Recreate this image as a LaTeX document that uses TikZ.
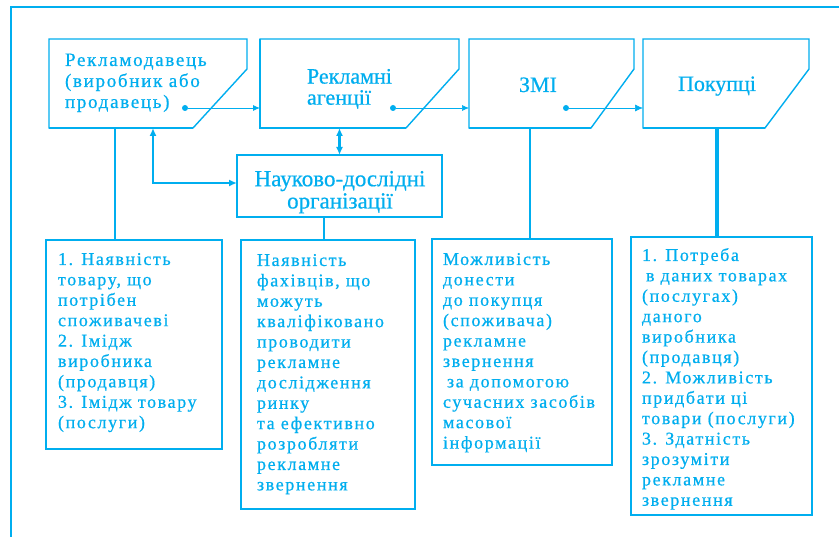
\documentclass[tikz,border=0pt]{standalone}
\usepackage{fontspec}
\setmainfont[FakeBold=0.6]{Liberation Serif}
\newfontfamily\spacedfont[LetterSpace=9,FakeBold=0.6]{Liberation Serif}
\usetikzlibrary{arrows.meta}
\definecolor{cy}{RGB}{0,174,239}
\begin{document}
\begin{tikzpicture}[x=1pt,y=-1pt,
  every node/.style={inner sep=0pt, outer sep=0pt},
  frame/.style={draw=none, rectangle},
  outline/.style={draw=cy, line width=1.4pt, line join=miter},
  edge/.style={draw=cy, line width=2.6pt},
  cbox/.style={draw=cy, rectangle, anchor=north west},
  txt/.style={text=cy, align=left},
  bigtxt/.style={txt, font=\bfseries\fontsize{22}{18.5}\selectfont},
  midtxt/.style={txt, font=\spacedfont\fontsize{19}{21}\selectfont},
  bodytxt/.style={txt, anchor=north west, font=\spacedfont\fontsize{18}{20.4}\selectfont},
  thinlink/.style={draw=cy, line width=1.3pt},
  thicklink/.style={draw=cy, line width=3.5pt},
  flowarrow/.style={draw=cy, line width=0.9pt, -{Latex[length=7pt,width=6pt]}},
  dbl/.style={draw=cy, line width=2.8pt, {Latex[length=8pt,width=7pt]}-{Latex[length=8pt,width=7pt]}},
  dotmark/.style={fill=cy, circle, minimum size=6pt}
]
\useasboundingbox (0,0) rectangle (839,537);
\fill[white] (0,0) rectangle (839,537);
% outer frame (cropped)
\draw[cy, line width=2.6pt] (11,545) -- (11,7) -- (845,7);

% top boxes
\node[frame, minimum width=198pt, minimum height=89pt] (adv) at (148,83.5) {};
\node[frame, minimum width=199pt, minimum height=89pt] (ag) at (359.5,83.5) {};
\node[frame, minimum width=165pt, minimum height=89pt] (zmi) at (551.5,83.5) {};
\node[frame, minimum width=166pt, minimum height=89pt] (pok) at (726,83.5) {};
\draw[outline] (adv.north west) -- (adv.north east) -- ([yshift=-30pt]adv.north east) -- ([xshift=-54pt]adv.south east) -- (adv.south west) -- cycle;
\draw[outline] (ag.north west) -- (ag.north east) -- ([yshift=-30pt]ag.north east) -- ([xshift=-53pt]ag.south east) -- (ag.south west) -- cycle;
\draw[outline] (zmi.north west) -- (zmi.north east) -- ([yshift=-30pt]zmi.north east) -- ([xshift=-43pt]zmi.south east) -- (zmi.south west) -- cycle;
\draw[outline] (pok.north west) -- (pok.north east) -- ([yshift=-30pt]pok.north east) -- ([xshift=-44pt]pok.south east) -- (pok.south west) -- cycle;
% heavier lower edges
\draw[edge] (adv.south west) -- ([xshift=-54pt]adv.south east);
\draw[edge] (ag.north west) -- (ag.south west) -- ([xshift=-53pt]ag.south east);
\draw[edge] (zmi.south west) -- ([xshift=-43pt]zmi.south east);
\draw[edge] (pok.south west) -- ([xshift=-44pt]pok.south east);

\node[midtxt, anchor=north west] (advt) at (65,51.3) {\strut Рекламодавець\\(виробник або\\продавець)};
\node[txt, font=\fontsize{22}{18.5}\selectfont, anchor=north west] (agt) at (307,69) {\strut Рекламні\\агенції};
\node[txt, font=\fontsize{22}{18.5}\selectfont, anchor=base] (zmit) at (538,92) {ЗМІ};
\node[txt, font=\fontsize{22}{18.5}\selectfont, anchor=base] (pokt) at (717,91) {Покупці};

% research box
\node[cbox, draw=cy, line width=1.4pt, minimum width=205pt, minimum height=62pt] (nd) at (237,155) {};
\node[txt, align=center, anchor=north, font=\fontsize{23}{20}\selectfont] (ndt) at (340,171) {\strut Науково-дослідні\\організації};

% dots
\node[dotmark] (d1) at (185,108) {};
\node[dotmark] (d2) at (393,108) {};
\node[dotmark] (d3) at (566,108) {};

% flow arrows
\draw[flowarrow] (d1) -- (ag.west |- d1);
\draw[flowarrow, line width=0.6pt] (d2) -- (zmi.west |- d2);
\draw[flowarrow, line width=0.6pt, -{Latex[length=8pt,width=7pt]}] (d3) -- (pok.west |- d3);

% double arrows
\draw[dbl] (nd.north |- ag.south) -- (nd.north);
\draw[dbl, line width=2.6pt] ([xshift=104pt]adv.south west) |- ([yshift=3pt]nd.west);

% bottom boxes
\node[cbox, line width=2pt, minimum width=176pt, minimum height=209pt] (b1) at (46,240) {};
\node[cbox, line width=2pt, minimum width=174pt, minimum height=269pt] (b2) at (241,240) {};
\node[cbox, line width=1.8pt, minimum width=180pt, minimum height=226pt] (b3) at (432,239) {};
\node[cbox, line width=2.4pt, minimum width=181pt, minimum height=278pt] (b4) at (631,237) {};

% vertical links
\draw[thinlink] ([xshift=66pt]adv.south west) -- ([xshift=69pt]b1.north west);
\draw[thinlink] ([xshift=87pt]nd.south west) -- ([xshift=83pt]b2.north west);
\draw[thinlink] ([xshift=61pt]zmi.south west) -- ([xshift=98pt]b3.north west);
\draw[thicklink] ([xshift=74pt]pok.south west) -- ([xshift=86pt]b4.north west);

% texts of bottom boxes
\node[bodytxt] (b1t) at (58,250.7) {\strut 1. Наявність\\товару, що\\потрібен\\споживачеві\\2. Імідж\\виробника\\(продавця)\\3. Імідж товару\\(послуги)};
\node[bodytxt] (b2t) at (257,251.7) {\strut Наявність\\фахівців, що\\можуть\\кваліфіковано\\проводити\\рекламне\\дослідження\\ринку\\та ефективно\\розробляти\\рекламне\\звернення};
\node[bodytxt] (b3t) at (443,250.7) {\strut Можливість\\донести\\до покупця\\(споживача)\\рекламне\\звернення\\\hspace*{4pt}за допомогою\\сучасних засобів\\масової\\інформації};
\node[bodytxt] (b4t) at (642,246.7) {\strut 1. Потреба\\\hspace*{4pt}в даних товарах\\(послугах)\\даного\\виробника\\(продавця)\\2. Можливість\\придбати ці\\товари (послуги)\\3. Здатність\\зрозуміти\\рекламне\\звернення};
\end{tikzpicture}
\end{document}
